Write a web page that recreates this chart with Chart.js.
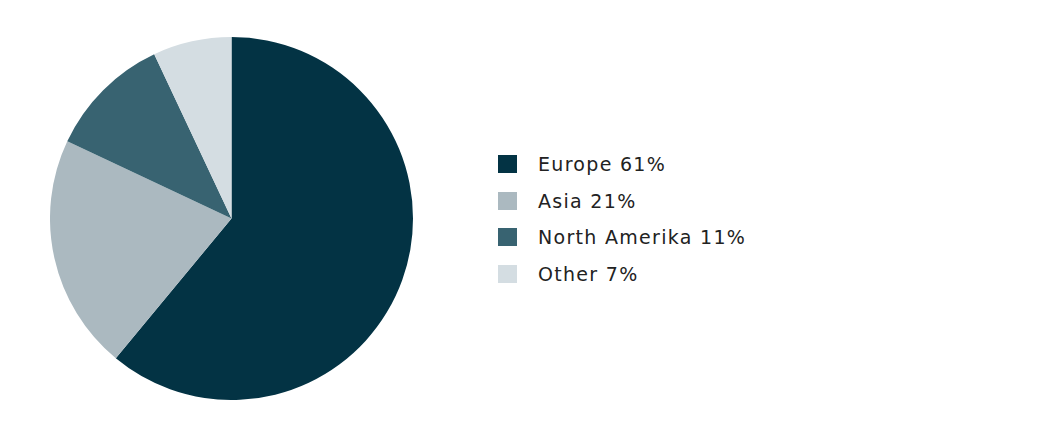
<!DOCTYPE html>
<html>
<head>
<meta charset="utf-8">
<script src="https://cdn.jsdelivr.net/npm/chart.js@4/dist/chart.umd.min.js"></script>
<style>
  html, body { margin: 0; padding: 0; background: #ffffff; }
  #wrap { position: relative; width: 1053px; height: 440px; }
  #pie-box { position: absolute; left: 50px; top: 37px; width: 363px; height: 363px; }
  #legend { position: absolute; left: 498px; top: 146px; margin: 0; padding: 0; list-style: none;
    font-family: "DejaVu Sans", sans-serif; font-size: 19px; letter-spacing: 1.3px; color: #222222; }
  #legend li { height: 36.5px; display: flex; align-items: center; }
  #legend .box { width: 19px; height: 18px; margin-right: 21px; }
</style>
</head>
<body>
<div id="wrap">
  <div id="pie-box"><canvas id="pie"></canvas></div>
  <ul id="legend"></ul>
</div>
<script>
// Chart data
const categories = ["Europe", "Asia", "North Amerika", "Other"];
const shares = [61, 21, 11, 7];
const sliceColors = ["#033344", "#abb9c0", "#386371", "#d4dde2"];

// Pie chart
const ctx = document.getElementById("pie").getContext("2d");
new Chart(ctx, {
  type: "pie",
  data: {
    labels: categories,
    datasets: [
      {
        data: shares,
        backgroundColor: sliceColors,
        borderWidth: 0,
      },
    ],
  },
  options: {
    responsive: true,
    maintainAspectRatio: false,
    animation: false,
    layout: { padding: 0 },
    plugins: {
      legend: { display: false },
      tooltip: { enabled: false },
    },
  },
});

// Legend built from the same arrays
const legend = document.getElementById("legend");
categories.forEach(function (name, i) {
  const li = document.createElement("li");
  const box = document.createElement("span");
  box.className = "box";
  box.style.background = sliceColors[i];
  li.appendChild(box);
  li.appendChild(document.createTextNode(name + " " + shares[i] + "%"));
  legend.appendChild(li);
});
</script>
</body>
</html>
